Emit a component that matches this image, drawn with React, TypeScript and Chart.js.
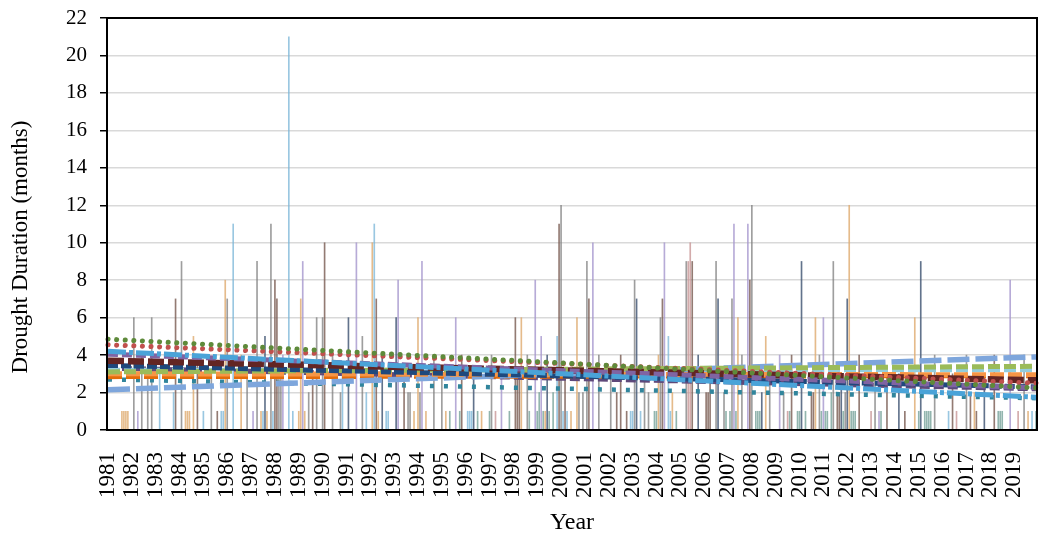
import React, { useEffect, useRef } from 'react';
import { Chart, registerables } from 'chart.js';

Chart.register(...registerables);

const FONT = "'Liberation Serif', 'Times New Roman', serif";

// ---- categories (one per month, 1981-01 .. 2019-12) ----
const yearTicks: string[] = [
  '1981', '1982', '1983', '1984', '1985', '1986', '1987', '1988', '1989', '1990',
  '1991', '1992', '1993', '1994', '1995', '1996', '1997', '1998', '1999', '2000',
  '2001', '2002', '2003', '2004', '2005', '2006', '2007', '2008', '2009', '2010',
  '2011', '2012', '2013', '2014', '2015', '2016', '2017', '2018', '2019',
];
const monthCodes: string[] = ['01', '02', '03', '04', '05', '06', '07', '08', '09', '10', '11', '12'];
const months: string[] = yearTicks.flatMap((y) => monthCodes.map((m) => `${y}-${m}`));

// ---- drought events: [month, duration in months] ----
const barsGray: [string, number][] = [
  ['1982-02', 6], ['1982-06', 4], ['1982-09', 3], ['1982-11', 6], ['1984-02', 9], ['1985-05', 3],
  ['1986-01', 7], ['1986-11', 3], ['1987-04', 9], ['1987-11', 11], ['1988-03', 3], ['1988-04', 3],
  ['1989-06', 2], ['1989-10', 6], ['1990-01', 6], ['1990-06', 4], ['1990-10', 2], ['1991-09', 5],
  ['1993-08', 2], ['1993-09', 2], ['1994-02', 2], ['1994-09', 4], ['1995-01', 3], ['1997-02', 4],
  ['1998-08', 4], ['2000-01', 12], ['2000-10', 2], ['2000-12', 2], ['2001-02', 9], ['2001-08', 4],
  ['2002-02', 3], ['2003-02', 8], ['2003-07', 3], ['2003-09', 2], ['2004-03', 6], ['2005-04', 9],
  ['2006-07', 9], ['2006-11', 2], ['2007-03', 7], ['2007-08', 4], ['2008-01', 12], ['2008-10', 3],
  ['2009-05', 2], ['2010-11', 4], ['2011-06', 9], ['2011-12', 2], ['2013-03', 3], ['2015-09', 4],
  ['2017-01', 4], ['2019-06', 4],
];
const barsLightBlue: [string, number][] = [
  ['1983-03', 3], ['1983-10', 2], ['1985-01', 1], ['1985-10', 1], ['1985-11', 1], ['1986-04', 11],
  ['1987-07', 1], ['1987-12', 1], ['1988-08', 21], ['1988-10', 1], ['1990-11', 3], ['1991-11', 2],
  ['1992-03', 11], ['1992-09', 1], ['1992-10', 1], ['1996-02', 1], ['1996-03', 1], ['1996-04', 1],
  ['1999-11', 5], ['2000-02', 1], ['2000-04', 1], ['2002-12', 1], ['2003-01', 1], ['2003-05', 1],
  ['2004-07', 5], ['2004-08', 1], ['2016-04', 1], ['2019-10', 1],
];
const barsTan: [string, number][] = [
  ['1981-08', 1], ['1981-09', 1], ['1981-10', 1], ['1981-11', 1], ['1984-04', 1], ['1984-05', 1],
  ['1984-06', 1], ['1984-08', 5], ['1985-12', 8], ['1986-08', 4], ['1987-06', 1], ['1987-09', 1],
  ['1989-01', 1], ['1989-02', 7], ['1989-04', 1], ['1992-02', 10], ['1992-05', 1], ['1993-11', 1],
  ['1994-01', 6], ['1994-05', 1], ['1995-03', 1], ['1996-09', 1], ['1998-05', 6], ['1999-05', 1],
  ['2000-06', 1], ['2000-09', 6], ['2004-02', 4], ['2004-09', 2], ['2007-06', 6], ['2008-08', 5],
  ['2010-09', 6], ['2012-02', 12], ['2014-11', 6], ['2017-05', 2], ['2019-08', 1],
];
const barsBrown: [string, number][] = [
  ['1983-11', 7], ['1984-10', 4], ['1985-08', 1], ['1988-01', 8], ['1988-02', 7], ['1989-08', 3],
  ['1990-02', 10], ['1992-04', 7], ['1993-06', 3], ['1995-11', 4], ['1998-02', 6], ['1998-03', 3],
  ['1998-04', 3], ['1999-12', 11], ['2000-03', 3], ['2001-03', 7], ['2002-05', 2], ['2002-07', 4],
  ['2002-10', 1], ['2004-04', 7], ['2005-07', 9], ['2006-02', 2], ['2006-03', 2], ['2006-04', 3],
  ['2007-12', 8], ['2009-09', 4], ['2010-07', 2], ['2010-08', 2], ['2011-08', 2], ['2011-09', 2],
  ['2012-07', 4], ['2013-09', 3], ['2014-06', 1], ['2016-06', 3], ['2017-03', 2], ['2017-06', 1],
  ['2018-03', 4],
];
const barsPurple: [string, number][] = [
  ['1982-04', 1], ['1987-02', 1], ['1988-05', 4], ['1989-03', 9], ['1991-06', 10], ['1993-03', 8],
  ['1994-03', 9], ['1995-08', 6], ['1997-07', 3], ['1998-12', 8], ['1999-03', 5], ['2001-05', 10],
  ['2004-05', 10], ['2007-04', 11], ['2007-11', 11], ['2009-03', 4], ['2011-01', 6], ['2013-05', 1],
  ['2018-11', 8],
];
const barsSlate: [string, number][] = [
  ['1987-08', 5], ['1991-02', 6], ['1992-07', 4], ['1993-02', 6], ['1996-05', 3], ['1999-06', 4],
  ['2003-03', 7], ['2005-10', 4], ['2006-08', 7], ['2008-06', 2], ['2010-02', 9], ['2011-10', 3],
  ['2012-01', 7], ['2014-03', 3], ['2015-02', 9], ['2017-10', 3],
];
const barsPink: [string, number][] = [
  ['1997-04', 1], ['2005-05', 9], ['2005-06', 10], ['2009-07', 1], ['2013-01', 1], ['2016-08', 1],
  ['2019-03', 1],
];
const barsTeal: [string, number][] = [
  ['1995-05', 1], ['1995-10', 1], ['1996-07', 1], ['1997-01', 1], ['1997-11', 1], ['1998-09', 1],
  ['1999-01', 1], ['1999-02', 2], ['1999-04', 1], ['1999-07', 1], ['1999-09', 2], ['2003-12', 1],
  ['2004-01', 1], ['2004-11', 1], ['2006-12', 1], ['2007-02', 1], ['2007-05', 1], ['2008-03', 1],
  ['2008-04', 1], ['2008-05', 1], ['2009-08', 1], ['2009-12', 1], ['2010-01', 1], ['2010-04', 1],
  ['2010-12', 1], ['2011-02', 1], ['2011-03', 1], ['2011-05', 2], ['2011-11', 1], ['2012-03', 1],
  ['2012-04', 1], ['2012-05', 1], ['2013-06', 1], ['2015-01', 1], ['2015-04', 1], ['2015-05', 1],
  ['2015-06', 1], ['2015-07', 1], ['2018-05', 1], ['2018-06', 1], ['2018-07', 1], ['2019-12', 1],
];

// ---- linear trend lines: value at 1981-01 and at 2019-12 ----
const trendStart: number[] = [4.85, 4.55, 4.2, 4.05, 3.7, 3.45, 3.1, 3.0, 2.15, 3.2, 2.85, 3.3, 2.7];
const trendEnd: number[] = [2.25, 2.5, 1.75, 2.25, 2.65, 2.3, 3.4, 2.95, 3.9, 3.2, 2.9, 2.2, 1.7];

const barSeries = [
  { data: barsGray, color: 'rgba(125,125,125,0.75)' },
  { data: barsLightBlue, color: 'rgba(120,180,215,0.75)' },
  { data: barsTan, color: 'rgba(222,170,110,0.8)' },
  { data: barsBrown, color: 'rgba(120,90,80,0.8)' },
  { data: barsPurple, color: 'rgba(165,150,205,0.8)' },
  { data: barsSlate, color: 'rgba(70,90,120,0.85)' },
  { data: barsPink, color: 'rgba(200,150,150,0.8)' },
  { data: barsTeal, color: 'rgba(100,150,140,0.7)' },
];

const trendStyles = [
  { color: '#5E8A3A', dash: [0.1, 8.5], width: 5, cap: 'round' },
  { color: '#C0504D', dash: [0.1, 8.5], width: 5, cap: 'round' },
  { color: '#4AA3D8', dash: [18, 3, 4, 3], width: 5, cap: 'butt' },
  { color: '#8064A2', dash: [10, 4], width: 5, cap: 'butt' },
  { color: '#632523', dash: [16, 4], width: 6.5, cap: 'butt' },
  { color: '#1F497D', dash: [10, 3], width: 5, cap: 'butt' },
  { color: '#9BBB59', dash: [12, 4], width: 5, cap: 'butt' },
  { color: '#F79646', dash: [14, 4], width: 5, cap: 'butt' },
  { color: '#7EA6DC', dash: [22, 6], width: 5.5, cap: 'butt' },
  { color: '#93CDDD', dash: [12, 4], width: 4.5, cap: 'butt' },
  { color: '#E46C0A', dash: [14, 4], width: 5, cap: 'butt' },
  { color: '#5F497A', dash: [10, 4], width: 5, cap: 'butt' },
  { color: '#31859C', dash: [4, 10], width: 4.5, cap: 'butt' },
];

const framePlugin = {
  id: 'frameAndTitle',
  afterDraw(chart: any) {
    const { ctx, chartArea: a } = chart;
    ctx.save();
    ctx.strokeStyle = '#000';
    ctx.lineWidth = 2;
    ctx.strokeRect(a.left, a.top, a.right - a.left, a.bottom - a.top);
    ctx.translate(21, 247);
    ctx.rotate(-Math.PI / 2);
    ctx.font = `23px ${FONT}`;
    ctx.fillStyle = '#000';
    ctx.textAlign = 'center';
    ctx.textBaseline = 'middle';
    ctx.fillText('Drought Duration (months)', 0, 0);
    ctx.restore();
  },
};

export default function App() {
  const ref = useRef<HTMLCanvasElement | null>(null);

  useEffect(() => {
    if (!ref.current) return;
    const datasets: any[] = [];
    trendStart.forEach((s, i) => {
      const st = trendStyles[i];
      datasets.push({
        type: 'line',
        data: [
          { x: months[0], y: s },
          { x: months[months.length - 1], y: trendEnd[i] },
        ],
        borderColor: st.color,
        borderWidth: st.width,
        borderDash: st.dash,
        borderCapStyle: st.cap,
        pointRadius: 0,
        fill: false,
        order: 0,
      });
    });
    barSeries.forEach((b) => {
      datasets.push({
        type: 'bar',
        data: b.data.map(([x, y]) => ({ x, y })),
        backgroundColor: b.color,
        borderWidth: 0,
        barThickness: 1,
        grouped: false,
        order: 1,
      });
    });

    const chart = new Chart(ref.current, {
      type: 'bar',
      data: { labels: months, datasets },
      plugins: [framePlugin],
      options: {
        animation: false,
        responsive: false,
        events: [],
        layout: { padding: { left: 0, right: 5, top: 18, bottom: 0 } },
        plugins: { legend: { display: false }, tooltip: { enabled: false } },
        scales: {
          x: {
            type: 'category',
            offset: true,
            grid: { display: false, drawTicks: false },
            border: { display: false },
            ticks: {
              autoSkip: false,
              minRotation: 90,
              maxRotation: 90,
              padding: 22,
              color: '#000',
              font: { family: FONT, size: 23 },
              callback: (_v: any, i: number) => (i % 12 === 0 ? yearTicks[i / 12] : ''),
            },
            title: {
              display: true,
              text: 'Year',
              color: '#000',
              font: { family: FONT, size: 24 },
              padding: { top: 0, bottom: 3 },
            },
            afterFit: (s: any) => {
              s.height = 110;
              s.paddingLeft = 0;
              s.paddingRight = 0;
            },
          },
          y: {
            min: 0,
            max: 22,
            ticks: { stepSize: 2, padding: 13, color: '#000', font: { family: FONT, size: 21 } },
            grid: { color: '#D9D9D9', lineWidth: 1.5, tickColor: '#000', tickLength: 7, tickWidth: 1.5 },
            border: { display: false },
            afterFit: (s: any) => {
              s.width = 107;
              s.paddingTop = 0;
              s.paddingBottom = 0;
            },
          },
        },
      } as any,
    });
    return () => chart.destroy();
  }, []);

  return (
    <div style={{ position: 'fixed', left: 0, top: 0, width: 1042, height: 540, background: '#fff' }}>
      <canvas ref={ref} width={1042} height={540} style={{ display: 'block' }} />
    </div>
  );
}
